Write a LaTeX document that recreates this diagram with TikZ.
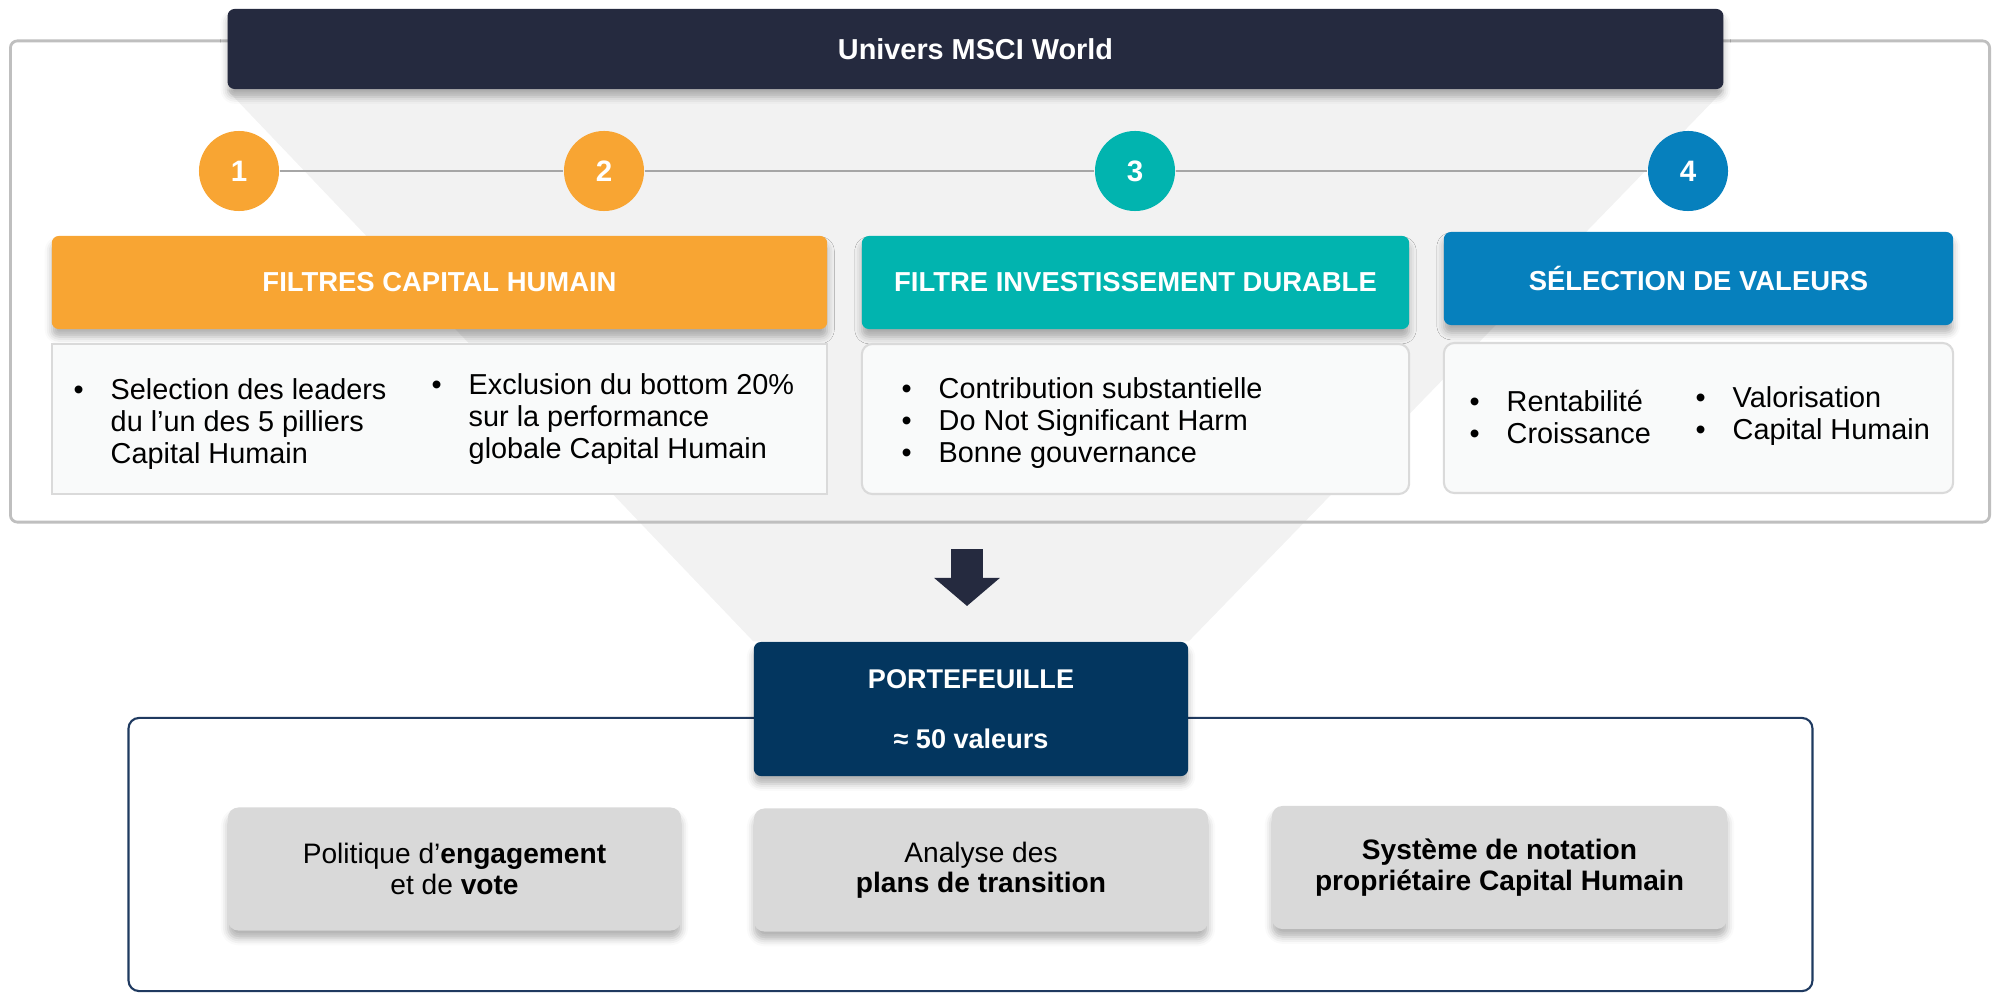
\documentclass[tikz,border=0pt]{standalone}
\usepackage{fontspec}
\setmainfont{Liberation Sans}
\usetikzlibrary{arrows.meta,backgrounds,shadows.blur}

\definecolor{navy}{HTML}{252A3F}
\definecolor{orangeF}{HTML}{F8A533}
\definecolor{tealF}{HTML}{01B4AF}
\definecolor{blueF}{HTML}{0680BD}
\definecolor{portF}{HTML}{03365F}
\definecolor{funnelF}{HTML}{F2F2F2}
\definecolor{frameL}{HTML}{BFBFBF}
\definecolor{cardF}{HTML}{F9FAFA}
\definecolor{cardL}{HTML}{DADADA}
\definecolor{greyF}{HTML}{D9D9D9}
\definecolor{linkL}{HTML}{A6A6A6}
\definecolor{portL}{HTML}{1F3A60}

% bullet list set as a two-column tabular
\newcommand{\puces}[1]{\begin{tabular}{@{}p{0.37cm}@{}l@{}}#1\end{tabular}}

\begin{document}
\begin{tikzpicture}[x=0.01cm, y=-0.01cm,
  every node/.style={inner sep=0pt},
  soft/.style={blur shadow={shadow xshift=0pt, shadow yshift=-2.2pt, shadow blur radius=2pt, shadow opacity=30}},
  title/.style={fill=navy, rounded corners=2pt, soft, minimum width=14.95cm, minimum height=0.80cm,
    text=white, font=\fontsize{8.2}{9.5}\selectfont\bfseries},
  numdot/.style={circle, minimum size=0.8cm, text=white, font=\fontsize{8.4}{9.5}\selectfont\bfseries},
  link/.style={draw=linkL, line width=0.7pt},
  head/.style={rounded corners=2pt, soft, minimum height=0.93cm, text=white,
    font=\fontsize{7.8}{9}\selectfont\bfseries},
  card/.style={draw=cardL, fill=cardF, line width=0.6pt, rounded corners=3pt, minimum height=1.5cm},
  item/.style={anchor=west, font=\fontsize{8.2}{9.1}\selectfont},
  frame/.style={draw=frameL, line width=0.8pt, rounded corners=2pt},
  portbox/.style={fill=portF, rounded corners=2pt, soft, minimum width=4.34cm, minimum height=1.34cm,
    align=center, text=white, font=\fontsize{7.7}{9}\selectfont\bfseries},
  greybox/.style={fill=greyF, rounded corners=3pt, soft, minimum height=1.23cm,
    align=center, font=\fontsize{8}{8.6}\selectfont}
]
\useasboundingbox (0,0) rectangle (1997,994);

% filtering frame and universe bar
\node[frame, minimum width=19.78cm, minimum height=4.81cm] (zone) at (1000,281.5) {};
\node[title] (univ) at (975.5,49) {Univers MSCI World};

% numbered steps
\foreach \n/\x/\c in {1/239/orangeF, 2/604/orangeF, 3/1135/tealF, 4/1688/blueF} {
  \node[numdot, fill=\c] (c\n) at (\x,171) {\n};
}
\foreach \a/\b in {1/2, 2/3, 3/4} {
  \draw[link] (c\a) -- (c\b);
}

% filter headers
\node[head, fill=orangeF, minimum width=7.75cm] (h1) at (439.5,282.5) {FILTRES CAPITAL HUMAIN};
\node[head, fill=tealF, minimum width=5.47cm] (h2) at (1135.5,282.5) {FILTRE INVESTISSEMENT DURABLE};
\node[head, fill=blueF, minimum width=5.09cm] (h3) at (1698.5,278.5) {SÉLECTION DE VALEURS};

% filter contents
\node[card, sharp corners, minimum width=7.75cm] (k1) at (439.5,419) {};
\node[card, minimum width=5.47cm] (k2) at (1135.5,419) {};
\node[card, minimum width=5.09cm] (k3) at (1698.5,418) {};

\node[item] (t1a) at (73,425) {\puces{•&Selection des leaders\\&du l’un des 5 pilliers\\&Capital Humain}};
\node[item] (t1b) at (431,420.5) {\puces{•&Exclusion du bottom 20\%\\&sur la performance\\&globale Capital Humain}};
\node[item] (t2) at (901,424.5) {\puces{•&Contribution substantielle\\•&Do Not Significant Harm\\•&Bonne gouvernance}};
\node[item] (t3a) at (1469,421) {\puces{•&Rentabilité\\•&Croissance}};
\node[item] (t3b) at (1695,417) {\puces{•&Valorisation\\•&Capital Humain}};

% arrow down to the portfolio
\coordinate (fl top) at (967,549);
\coordinate (fl tip) at (967,606);
\draw[navy, line width=0.32cm, -{Triangle[width=0.64cm, length=0.28cm]}] (fl top) -- (fl tip);

% portfolio and follow-up
\node[draw=portL, line width=0.6pt, rounded corners=3pt, minimum width=16.83cm, minimum height=2.73cm] (suivi) at (970.5,854.5) {};
\node[portbox] (port) at (971,709) {PORTEFEUILLE\\[0.28cm]≈ 50 valeurs};

\node[greybox, minimum width=4.53cm] (g1) at (454.5,869) {Politique d’\textbf{engagement}\\et de \textbf{vote}};
\node[greybox, minimum width=4.54cm] (g2) at (981,870) {Analyse des\\\textbf{plans de transition}};
\node[greybox, minimum width=4.55cm, font=\fontsize{8}{8.6}\selectfont\bfseries] (g3) at (1499.5,867.5) {Système de notation\\propriétaire Capital Humain};

% funnel behind everything
\begin{scope}[on background layer]
  \fill[funnelF] (univ.south west) -- (univ.south east) -- (port.north east) -- (port.north west) -- cycle;
\end{scope}
\end{tikzpicture}
\end{document}
